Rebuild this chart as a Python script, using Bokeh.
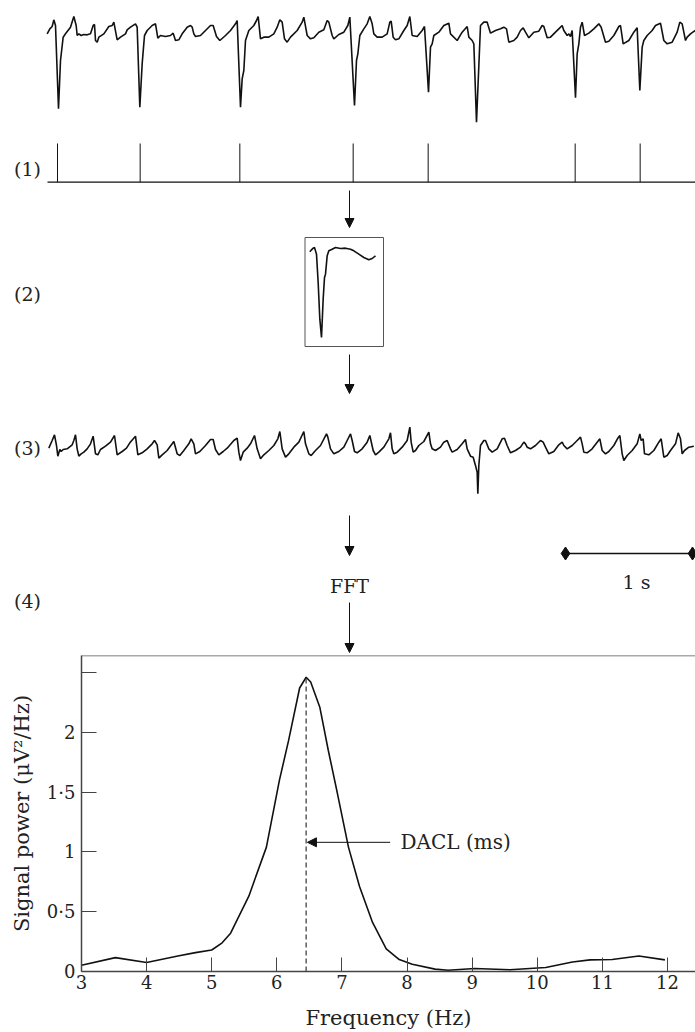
import numpy as np
from bokeh.plotting import figure
from bokeh.layouts import column
from bokeh.models import Range1d, Arrow, NormalHead, Label, FixedTicker, Span
from bokeh.embed import file_html
from bokeh.resources import INLINE

# ---------------- data ----------------
FS = 381.0

# (1) raw atrial electrogram: sample index and amplitude (arbitrary units)
trace1_n = [-1, 7, 14, 19, 24, 33, 39, 47, 54, 69, 79, 86, 89, 94, 101, 109, 119, 129, 137, 141,
            144, 149, 154, 169, 184, 194, 199, 209, 219, 234, 239, 249, 264, 269, 277, 284, 291, 299, 314, 324,
            331, 339, 354, 369, 377, 384, 394, 404, 419, 429, 434, 439, 444, 459, 474, 489, 497, 507, 517, 534,
            549, 564, 569, 579, 584, 589, 594, 604, 619, 627, 632, 639,
            649, 664, 679, 689, 697, 704, 711, 719, 729, 749, 764, 769, 779, 789, 799, 814, 829, 839, 844, 854,
            859, 874, 889, 901, 907, 921, 927, 931, 937, 949, 959, 967, 974, 979, 989, 1004, 1019, 1027, 1031, 1037,
            1044, 1054, 1069, 1079, 1087, 1094, 1109, 1124, 1131, 1143, 1149, 1154, 1159, 1174, 1189, 1204, 1209, 1229, 1244, 1259,
            1264, 1274, 1279, 1287, 1299,
            1309, 1319, 1329, 1344, 1359, 1369, 1377, 1384, 1399, 1409, 1419, 1427, 1434, 1444, 1459, 1474, 1484, 1489, 1499, 1509,
            1524, 1534, 1544, 1549, 1559, 1564, 1569, 1574, 1584, 1589, 1594, 1599, 1604, 1611, 1624, 1639, 1654, 1661, 1674, 1684,
            1699, 1714, 1719, 1727, 1744, 1759, 1769, 1777, 1784, 1789, 1799, 1814, 1824, 1839, 1849, 1859, 1874, 1889, 1897, 1904,
            1914, 1919, 1929, 1936, 1944]
trace1_v = [-70, -55, -48, -28, -45, -295, -150, -80, -70, -50, -18, -45, -75, -70, -75, -72, -73, -70, -45, -42,
            -90, -95, -80, -70, -48, -45, -35, -88, -80, -70, -58, -50, -40, -50, -290, -160, -75, -60, -45, -40,
            -83, -75, -78, -75, -68, -90, -88, -70, -50, -45, -50, -70, -78, -75, -60, -45, -45, -78, -90, -75,
            -60, -40, -30, -290, -205, -180, -90, -60, -45, -30, -18, -85,
            -80, -80, -70, -50, -28, -35, -85, -95, -80, -60, -35, -20, -75, -85, -82, -65, -58, -30, -35, -75,
            -85, -72, -65, -45, -20, -285, -150, -130, -75, -55, -40, -18, -40, -70, -80, -80, -70, -35, -32, -80,
            -88, -85, -60, -45, -18, -75, -78, -60, -48, -245, -110, -100, -75, -65, -45, -38, -70, -90, -65, -48,
            -80, -90, -100, -335, -45,
            -35, -35, -68, -60, -55, -50, -55, -95, -90, -80, -60, -52, -65, -82, -65, -62, -45, -48, -82, -80,
            -65, -55, -45, -60, -75, -70, -78, -60, -262, -130, -100, -50, -35, -75, -68, -55, -40, -50, -95, -92,
            -75, -48, -45, -100, -90, -65, -52, -240, -110, -90, -75, -60, -45, -38, -90, -100, -95, -65, -35, -40,
            -90, -80, -70, -65, -60]

# detected activations (sample index)
events_n = [30, 278, 577, 917, 1142, 1583, 1778]

# (2) averaged activation template
template_n = [28, 33, 38, 42, 48, 53, 58, 63, 68, 72, 75, 80, 85, 95, 105, 120, 135, 150, 160, 175, 190, 205, 215, 225]
template_v = [-58, -52, -47, -45, -65, -150, -260, -315, -200, -135, -125, -70, -55, -50, -45, -48, -47, -50, -55, -65,
              -75, -82, -78, -70]

# (3) signal after subtraction of the template
trace3_n = [4, 14, 21, 27, 31, 37, 41, 47, 59, 74, 79, 84, 89, 94, 101, 109, 119, 129, 137, 144,
            151, 159, 174, 189, 201, 209, 224, 237, 247, 264, 271, 284, 299, 314, 321, 329, 334, 344, 359, 374,
            379, 389, 397, 409, 424, 431, 439, 444, 457, 474, 489, 497, 504, 514, 527, 539, 559, 569, 574, 579,
            587, 599, 609, 621, 629, 639, 649, 664, 679, 691, 697, 704, 714, 724, 739, 754, 769, 774, 784, 791,
            804, 819, 837, 841, 849, 859, 874, 889, 899, 909, 914, 921, 929, 944, 959, 967,
            977, 984, 994, 1009, 1024, 1029, 1034, 1039, 1049, 1064, 1079, 1087, 1091, 1097, 1104, 1114, 1129, 1144, 1149, 1154,
            1164, 1179, 1189, 1199, 1209, 1214, 1229, 1244, 1254, 1259, 1269, 1277, 1284, 1289, 1291, 1294, 1299, 1309, 1314, 1324,
            1334, 1349, 1364, 1371, 1379, 1389, 1404, 1419, 1429, 1434, 1439, 1449, 1464, 1479, 1487, 1494, 1504, 1519, 1534, 1544,
            1549, 1559, 1574, 1589, 1599, 1604, 1609, 1619, 1634, 1649, 1657, 1664, 1674, 1684, 1699, 1711, 1717, 1724, 1729, 1739,
            1754, 1769, 1777, 1781, 1787, 1791, 1804, 1819, 1834, 1841, 1849, 1859, 1869, 1884, 1892, 1899, 1904, 1911, 1924, 1939]
trace3_v = [-68, -45, -28, -60, -92, -72, -78, -72, -70, -58, -45, -28, -70, -92, -85, -80, -70, -55, -32, -85,
            -88, -72, -62, -50, -30, -88, -78, -68, -52, -32, -88, -82, -70, -55, -45, -58, -98, -88, -75, -55,
            -48, -85, -90, -75, -55, -40, -55, -85, -78, -60, -42, -42, -72, -88, -78, -68, -45, -38, -80, -105,
            -80, -68, -55, -30, -70, -100, -88, -75, -60, -40, -18, -70, -95, -85, -65, -50, -18, -55, -85, -90,
            -75, -60, -25, -35, -70, -85, -78, -65, -45, -25, -45, -78, -82, -70, -50, -30,
            -75, -88, -80, -65, -40, -22, -70, -85, -80, -65, -45, -5, -50, -80, -75, -60, -48, -20, -55, -70,
            -75, -65, -50, -45, -70, -80, -72, -55, -42, -70, -92, -95, -120, -140, -205, -120, -60, -45, -45, -70,
            -80, -70, -40, -38, -60, -82, -75, -65, -50, -55, -65, -70, -60, -45, -50, -65, -85, -78, -58, -50,
            -60, -70, -60, -45, -35, -55, -80, -82, -70, -50, -40, -75, -85, -78, -60, -38, -30, -85, -105, -90,
            -75, -55, -25, -45, -40, -85, -88, -75, -50, -40, -95, -90, -75, -55, -22, -40, -85, -75, -65, -62]

SCALE_BAR_S = 1.0  # seconds

# (4) power spectrum
freq_hz = [3.0, 3.52, 4.0, 4.48, 4.75, 5.0, 5.16, 5.29, 5.57, 5.84, 6.04, 6.18, 6.35, 6.45, 6.52, 6.66, 6.79,
           6.93, 7.1, 7.27, 7.47, 7.68, 7.88, 8.08, 8.43, 8.63, 9.04, 9.58, 10.13, 10.54, 10.81, 11.15, 11.56, 11.96]
power = [0.053, 0.116, 0.075, 0.13, 0.158, 0.18, 0.24, 0.32, 0.63, 1.04, 1.6, 1.93, 2.37, 2.46, 2.42, 2.21, 1.85,
         1.49, 1.04, 0.71, 0.41, 0.19, 0.10, 0.06, 0.02, 0.01, 0.025, 0.014, 0.033, 0.08, 0.097, 0.10, 0.13, 0.097]
dominant_hz = 6.45
x_ticks = [3, 4, 5, 6, 7, 8, 9, 10, 11, 12]
y_ticks = [0, 0.5, 1, 1.5, 2, 2.5]
y_tick_labels = ["0", "0·5", "1", "1·5", "2", ""]

# ---------------- styling / layout ----------------
FONT = "DejaVu Serif"
INK = "#111111"
GREY = "#555555"
TXT = "#222222"
X0 = 47.0          # left start of the traces (px)
PX_PER_S = 127.0   # horizontal scale of the traces
GAIN = 1.0 / 3.0   # vertical scale of the traces
ARROW_X = 349
TOP_H = 653

p1 = figure(width=695, height=TOP_H, x_range=Range1d(0, 695), y_range=Range1d(TOP_H, 0),
            output_backend="svg", toolbar_location=None, x_axis_type=None, y_axis_type=None,
            min_border=0)
p1.frame_align = False
p1.outline_line_color = None
p1.grid.grid_line_color = None


def tx(n):
    return X0 + np.asarray(n, dtype=float) / FS * PX_PER_S


# trace 1
p1.line(tx(trace1_n), 10 - GAIN * np.asarray(trace1_v, float), line_color=INK, line_width=1.6)

# event markers
ev_x = tx(events_n)
p1.segment(ev_x, [143] * len(ev_x), ev_x, [181.7] * len(ev_x), line_color=INK, line_width=1)
p1.segment([X0], [181.7], [695], [181.7], line_color=INK, line_width=1.2)

# template box
p1.quad(left=[304.5], right=[383], top=[237], bottom=[346], fill_color=None, line_color=GREY, line_width=1)
p1.line(300 + np.asarray(template_n, float) / 3.0, 232 - GAIN * np.asarray(template_v, float),
        line_color=INK, line_width=1.6)

# trace 3
p1.line(tx(trace3_n), 425 - GAIN * np.asarray(trace3_v, float), line_color=INK, line_width=1.6)

# scale bar
sb_x = [565, 565 + SCALE_BAR_S * PX_PER_S]
p1.line(sb_x, [553, 553], line_color=INK, line_width=1.5)
p1.scatter(sb_x, [553, 553], marker="diamond", size=13, color=INK)

# arrows
for y0, y1 in [(190, 227), (354, 393), (515, 555), (602, 652)]:
    p1.add_layout(Arrow(end=NormalHead(size=9, fill_color=INK, line_color=INK),
                        x_start=ARROW_X, y_start=y0, x_end=ARROW_X, y_end=y1,
                        line_color=INK, line_width=1))

for txt, x, y in [("(1)", 27, 168), ("(2)", 27, 293), ("(3)", 27, 447), ("(4)", 27, 600),
                  ("FFT", ARROW_X, 585), ("1 s", 636, 581)]:
    p1.add_layout(Label(x=x, y=y, text=txt, text_align="center", text_baseline="middle",
                        text_font=FONT, text_font_size="19px", text_color=TXT))

# ---------------- spectrum ----------------
p2 = figure(width=695, height=1032 - TOP_H, x_range=Range1d(3, 12.43), y_range=Range1d(0, 2.642),
            output_backend="svg", toolbar_location=None,
            min_border_left=81, min_border_right=0, min_border_top=2, min_border_bottom=60)
p2.frame_align = False
p2.outline_line_color = None
p2.grid.grid_line_color = None
p2.add_layout(Span(location=2.642, dimension="width", line_color=GREY, line_width=1.5))

p2.line(freq_hz, power, line_color=INK, line_width=1.6)
p2.segment([dominant_hz], [0], [dominant_hz], [max(power)], line_color="#444444",
           line_width=1.3, line_dash="5 3")
p2.add_layout(Arrow(end=NormalHead(size=9, fill_color=INK, line_color=INK),
                    x_start=7.74, y_start=1.08, x_end=dominant_hz + 0.02, y_end=1.08,
                    line_color=INK, line_width=1))
p2.add_layout(Label(x=7.9, y=1.08, text="DACL (ms)", text_align="left", text_baseline="middle",
                    text_font=FONT, text_font_size="20px", text_color=TXT))

xa = p2.xaxis[0]
xa.ticker = FixedTicker(ticks=x_ticks)
xa.major_tick_in = 14
xa.major_tick_out = 0
xa.minor_tick_line_color = None
xa.axis_line_color = "#444444"
xa.axis_line_width = 1.5
xa.major_tick_line_color = "#444444"
xa.major_label_standoff = 3
xa.major_label_text_font = FONT
xa.major_label_text_font_size = "18px"
xa.major_label_text_color = TXT
xa.axis_label = "Frequency (Hz)"
xa.axis_label_text_font = FONT
xa.axis_label_text_font_size = "21px"
xa.axis_label_text_font_style = "normal"
xa.axis_label_text_color = TXT
xa.axis_label_standoff = 14

ya = p2.yaxis[0]
ya.ticker = FixedTicker(ticks=y_ticks)
ya.major_label_overrides = {k: v for k, v in zip(y_ticks, y_tick_labels)}
ya.major_tick_in = 15
ya.major_tick_out = 0
ya.minor_tick_line_color = None
ya.axis_line_color = "#444444"
ya.axis_line_width = 1.5
ya.major_tick_line_color = "#444444"
ya.major_label_standoff = 6
ya.major_label_text_font = FONT
ya.major_label_text_font_size = "18px"
ya.major_label_text_color = TXT
ya.axis_label = "Signal power (μV²/Hz)"
ya.axis_label_text_font = FONT
ya.axis_label_text_font_size = "21px"
ya.axis_label_text_font_style = "normal"
ya.axis_label_text_color = TXT
ya.axis_label_standoff = 10

layout = column(p1, p2, spacing=0)
open("out.html", "w").write(file_html(layout, INLINE))
